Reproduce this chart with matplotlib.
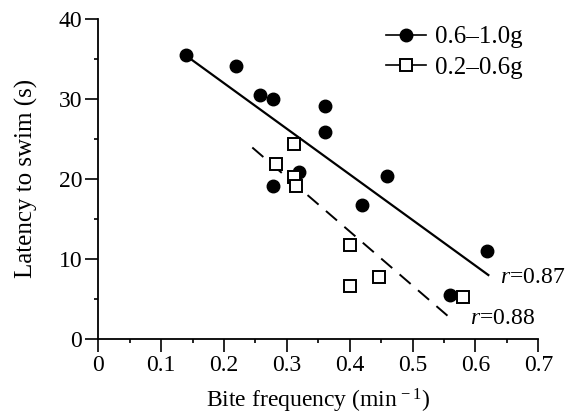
import numpy as np
import matplotlib
matplotlib.use("Agg")
import matplotlib.pyplot as plt
from matplotlib.ticker import MultipleLocator
from matplotlib.lines import Line2D

plt.rcParams['font.family'] = ['Liberation Serif', 'DejaVu Serif']
plt.rcParams['mathtext.fontset'] = 'custom'
plt.rcParams['mathtext.rm'] = 'Liberation Serif'
plt.rcParams['mathtext.it'] = 'Liberation Serif:italic'

# Data
large_x = [0.139, 0.219, 0.258, 0.278, 0.360, 0.360, 0.320, 0.278, 0.459, 0.420, 0.619, 0.559]
large_y = [35.4, 34.1, 30.5, 29.9, 29.05, 25.8, 20.85, 19.1, 20.3, 16.7, 11.0, 5.45]
small_x = [0.312, 0.282, 0.311, 0.314, 0.401, 0.401, 0.446, 0.580]
small_y = [24.3, 21.9, 20.2, 19.1, 11.7, 6.6, 7.7, 5.3]
# regression line endpoints
large_fit_x = [0.139, 0.622]
large_fit_y = [35.4, 7.9]
small_fit_x = [0.245, 0.566]
small_fit_y = [23.9, 2.2]
labels = ['0.6\u20131.0g', '0.2\u20130.6g']
r_labels = ['0.87', '0.88']
x_ticks = [0, 0.1, 0.2, 0.3, 0.4, 0.5, 0.6, 0.7]
x_tick_labels = ['0', '0.1', '0.2', '0.3', '0.4', '0.5', '0.6', '0.7']
y_ticks = [0, 10, 20, 30, 40]

fig = plt.figure(figsize=(5.66, 4.19), dpi=100)
ax = fig.add_axes([0.1737, 0.191, 0.7773, 0.7648])

ax.plot(large_fit_x, large_fit_y, color='black', lw=1.6, solid_capstyle='butt')
ax.plot(small_fit_x, small_fit_y, color='black', lw=1.4, dashes=(7.5, 5))
ax.plot(large_x, large_y, 'o', color='black', ms=9)
ax.plot(small_x, small_y, 's', mfc='white', mec='black', mew=1.4, ms=8)

lh1 = Line2D([], [], color='black', lw=1.2, marker='o', ms=9)
lh2 = Line2D([], [], color='black', lw=1.2, marker='s', mfc='white', mew=1.4, ms=8)
ax.legend([lh1, lh2], labels, loc='upper left',
          bbox_to_anchor=(386 / 566, 1 - 26 / 419), bbox_transform=fig.transFigure,
          frameon=False, fontsize=18, handlelength=1.6, handletextpad=0.35,
          labelspacing=0.33, borderaxespad=0, borderpad=0)

ax.text(0.639, 7.7, r'$\mathit{r}$=' + r_labels[0], fontsize=17, va='center', ha='left')
ax.text(0.592, 2.6, r'$\mathit{r}$=' + r_labels[1], fontsize=17, va='center', ha='left')

ax.set_xlim(0, 0.7)
ax.set_ylim(0, 40)
ax.set_xticks(x_ticks)
ax.set_xticklabels(x_tick_labels)
ax.set_yticks(y_ticks)
ax.xaxis.set_minor_locator(MultipleLocator(0.05))
ax.yaxis.set_minor_locator(MultipleLocator(5))
ax.tick_params(which='major', direction='out', length=9.5, width=1.2, labelsize=17, pad=2)
ax.tick_params(which='minor', direction='out', length=3, width=1.2)
for s in ['top', 'right']:
    ax.spines[s].set_visible(False)
for s in ['left', 'bottom']:
    ax.spines[s].set_linewidth(1.3)

ax.set_xlabel('Bite frequency (min$^{\\,-1}$)', fontsize=17, labelpad=8)
ax.set_ylabel('Latency to swim (s)', fontsize=18, labelpad=15)
ax.patch.set_visible(False)

fig.savefig('out.png', dpi=100)
